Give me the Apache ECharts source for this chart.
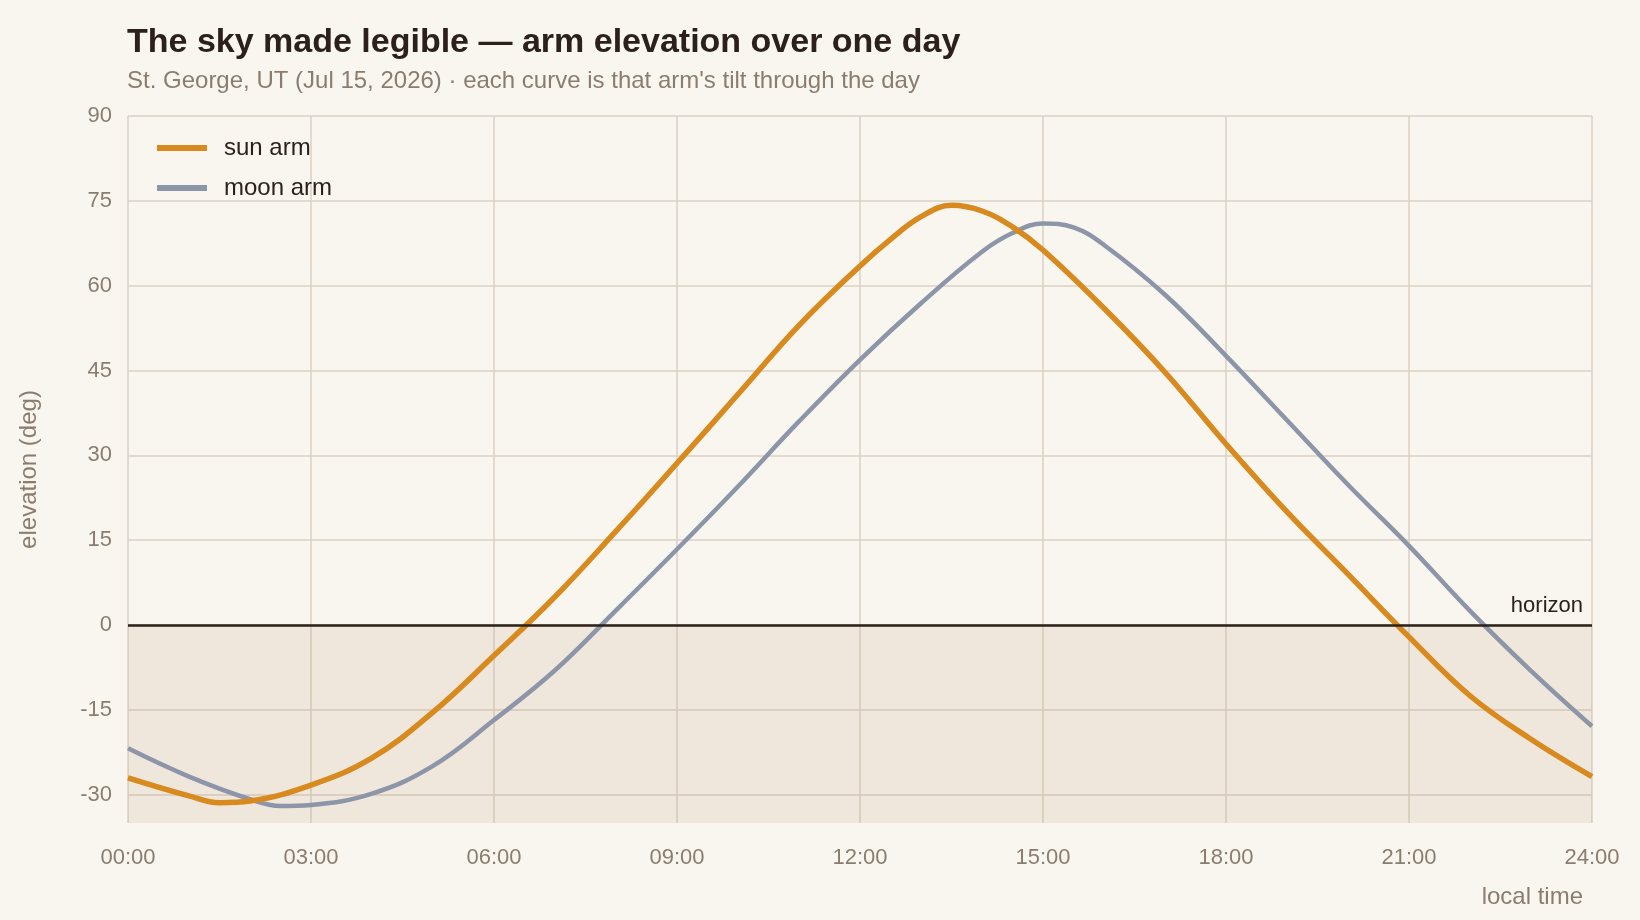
<!DOCTYPE html>
<html>
<head>
<meta charset="utf-8">
<title>arm elevation over one day</title>
<script src="https://cdn.jsdelivr.net/npm/echarts@6/dist/echarts.min.js"></script>
<style>
  html, body { margin: 0; padding: 0; background: #f9f6f0; }
  #chart { width: 1640px; height: 920px; }
</style>
</head>
<body>
<div id="chart"></div>
<script>
// local time in hours, with a few half hours near the turning points
var sunHours = [0, 1, 1.5, 2, 3, 4, 5, 6, 7, 8, 9, 10, 11, 12, 12.5, 13, 13.5, 14, 14.5, 15, 16, 17, 18, 19, 20, 21, 22, 23, 24];
var sunArm   = [-27.0, -30.2, -31.4, -31.1, -28.3, -23.5, -15.4, -5.4, 5.0, 16.6, 28.6, 40.8, 53.0, 63.5, 68.2, 72.2, 74.2, 73.2, 70.4, 66.3, 56.0, 44.7, 32.0, 20.0, 9.0, -2.1, -12.5, -20.2, -26.8];

var moonHours = [0, 1, 2, 2.5, 3, 4, 5, 6, 7, 8, 9, 10, 11, 12, 13, 14, 14.5, 15, 15.5, 16, 17, 18, 19, 20, 21, 22, 23, 24];
var moonArm   = [-21.8, -26.8, -30.8, -32.0, -31.8, -29.8, -24.9, -16.8, -8.0, 2.6, 13.4, 24.5, 36.0, 46.9, 56.9, 66.0, 69.3, 71.0, 70.3, 67.2, 58.4, 47.6, 36.2, 24.8, 14.0, 2.5, -8.1, -17.9];

var yTicks = [-30, -15, 0, 15, 30, 45, 60, 75, 90];

function pairs(xs, ys) {
    var out = [];
    for (var i = 0; i < xs.length; i++) out.push([xs[i], ys[i]]);
    return out;
}

var font = '"Liberation Sans", Arial, Helvetica, sans-serif';
var grey = '#8a7d70';
var ink = '#2b211a';
var gridColor = '#dad1c5';

var myChart = echarts.init(document.getElementById('chart'));
var option = {
    backgroundColor: '#f9f6f0',
    textStyle: { fontFamily: font },
    title: [{
        text: 'The sky made legible \u2014 arm elevation over one day',
        left: 122, top: 21,
        textStyle: { fontFamily: font, fontSize: 34, fontWeight: 'bold', color: ink }
    }, {
        text: 'St. George, UT (Jul 15, 2026) \u00b7 each curve is that arm\'s tilt through the day',
        left: 122, top: 64,
        textStyle: { fontFamily: font, fontSize: 24, fontWeight: 'normal', color: grey }
    }],
    legend: {
        orient: 'vertical',
        left: 152, top: 131,
        icon: 'rect',
        itemWidth: 50, itemHeight: 6,
        itemGap: 16,
        textStyle: { fontFamily: font, fontSize: 24, color: ink, padding: [0, 0, 0, 12] },
        data: ['sun arm', 'moon arm']
    },
    grid: { left: 128, right: 48, top: 116, bottom: 97 },
    xAxis: {
        type: 'value',
        min: 0, max: 24, interval: 3,
        axisLine: { show: false, onZero: false },
        axisTick: { show: false },
        axisLabel: {
            margin: 24,
            fontSize: 22, color: grey, fontFamily: font,
            formatter: function (v) { return (v < 10 ? '0' : '') + v + ':00'; }
        },
        splitLine: { show: true, lineStyle: { color: gridColor, width: 1.5 } },
        name: 'local time',
        nameLocation: 'end',
        nameGap: 0,
        nameTextStyle: {
            fontSize: 24, color: grey, fontFamily: font,
            align: 'right', verticalAlign: 'top', padding: [62, 9, 0, 0]
        }
    },
    yAxis: {
        type: 'value',
        min: -35, max: 90,
        axisLine: { show: false },
        axisTick: { show: false, customValues: yTicks },
        axisLabel: { customValues: yTicks, margin: 16, fontSize: 22, color: grey, fontFamily: font },
        splitLine: { show: true, lineStyle: { color: gridColor, width: 1.5 } },
        name: 'elevation (deg)',
        nameLocation: 'middle',
        nameGap: 87,
        nameTextStyle: { fontSize: 24, color: grey, fontFamily: font }
    },
    series: [{
        name: 'sun arm',
        type: 'line',
        smooth: 0.4,
        showSymbol: false,
        color: '#d98a1e',
        lineStyle: { width: 5.5, color: '#d98a1e' },
        data: pairs(sunHours, sunArm),
        z: 4,
        markArea: {
            silent: true,
            itemStyle: { color: 'rgba(182,146,107,0.15)' },
            data: [[{ yAxis: -35 }, { yAxis: 0 }]]
        },
        markLine: {
            silent: true,
            symbol: 'none',
            lineStyle: { color: ink, width: 2.5, type: 'solid' },
            label: {
                show: true, position: 'insideEndTop', distance: [9, 8],
                formatter: 'horizon', fontSize: 22, color: ink, fontFamily: font
            },
            data: [{ yAxis: 0 }]
        }
    }, {
        name: 'moon arm',
        type: 'line',
        smooth: 0.4,
        showSymbol: false,
        color: '#8c96a8',
        lineStyle: { width: 4.5, color: '#8c96a8' },
        data: pairs(moonHours, moonArm),
        z: 3
    }]
};
myChart.setOption(option);
window.addEventListener('resize', function () {
    myChart.resize();
});
</script>
</body>
</html>
